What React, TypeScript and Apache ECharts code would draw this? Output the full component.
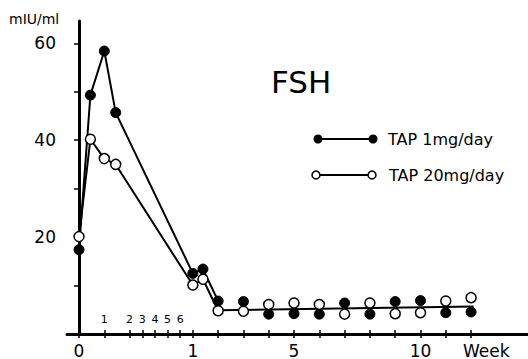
import React, { useEffect, useRef } from "react";
import * as echarts from "echarts";

// Axis units: day 0 = 0, day 1 = 2, day 2 = 4, day 3..6 = 5..8, week 1 = 9, then 2 units per week
const xPositions = [0, 0.9, 2, 2.9, 9, 9.8, 11, 13, 15, 17, 19, 21, 23, 25, 27, 29, 31];
const tap1 = [17.4, 49.3, 58.4, 45.7, 12.5, 13.4, 6.8, 6.7, 4.1, 4.2, 4.1, 6.4, 4.1, 6.7, 6.9, 4.4, 4.55];
const tap20 = [20.1, 40.2, 36.2, 35.0, 10.1, 11.3, 4.8, 4.7, 6.1, 6.4, 6.1, 4.1, 6.4, 4.2, 4.4, 6.8, 7.5];
const connectedCount = 7;
const plateauX = [11, 31.2];
const plateauY = [4.9, 5.7];

const xTickPositions = [0, 2, 4, 5, 6, 7, 8, 9, 11, 13, 15, 17, 19, 21, 23, 25, 27, 29, 31];
const weekLabelPositions = [0, 9, 17, 27, 32.2];
const weekLabelTexts = ["0", "1", "5", "10", "Week"];
const dayLabelPositions = [2, 4, 5, 6, 7, 8];
const dayLabelTexts = ["1", "2", "3", "4", "5", "6"];
const yLabelValues = [20, 40, 60];
const yTickValues = [10, 20, 30, 40, 50, 60];

const FONT = "DejaVu Sans";

export default function App() {
  const ref = useRef<HTMLDivElement>(null);
  useEffect(() => {
    if (!ref.current) return;
    const chart = echarts.init(ref.current, null, { renderer: "svg" });
    const pair = (xs: number[], ys: number[]) => xs.map((x, i) => [x, ys[i]]);
    const all1 = pair(xPositions, tap1);
    const all20 = pair(xPositions, tap20);
    const labelFor = (positions: number[], texts: string[]) => (v: number) => {
      const i = positions.findIndex((p) => Math.abs(p - v) < 1e-6);
      return i >= 0 ? texts[i] : "";
    };
    const filledStyle = { color: "#000", borderColor: "#000", borderWidth: 1, opacity: 1 };
    const openStyle = { color: "#fff", borderColor: "#000", borderWidth: 1.5, opacity: 1 };
    chart.setOption({
      animation: false,
      backgroundColor: "#fff",
      grid: { left: 67, right: 0, top: 21, bottom: 23, containLabel: false },
      xAxis: [
        {
          type: "value",
          min: -0.95,
          max: 35.5,
          position: "bottom",
          splitLine: { show: false },
          axisLine: { show: true, onZero: false, lineStyle: { color: "#000", width: 3 } },
          axisTick: {
            show: true,
            inside: false,
            length: 4,
            customValues: xTickPositions,
            lineStyle: { color: "#000", width: 1.5 },
          },
          axisLabel: {
            customValues: weekLabelPositions,
            formatter: labelFor(weekLabelPositions, weekLabelTexts),
            color: "#000",
            fontFamily: FONT,
            fontSize: 17,
            margin: 8,
          },
        },
        {
          type: "value",
          min: -0.95,
          max: 35.5,
          position: "bottom",
          splitLine: { show: false },
          axisLine: { show: false, onZero: false },
          axisTick: {
            show: true,
            inside: true,
            length: 4,
            customValues: xTickPositions,
            lineStyle: { color: "#000", width: 1.5 },
          },
          axisLabel: {
            inside: true,
            customValues: dayLabelPositions,
            formatter: labelFor(dayLabelPositions, dayLabelTexts),
            color: "#000",
            fontFamily: FONT,
            fontSize: 11,
            margin: 9,
          },
        },
      ],
      yAxis: {
        type: "value",
        min: 0,
        max: 64.6,
        splitLine: { show: false },
        axisLine: { show: true, lineStyle: { color: "#000", width: 3 } },
        axisTick: {
          show: true,
          length: 5,
          customValues: yTickValues,
          lineStyle: { color: "#000", width: 1.5 },
        },
        axisLabel: {
          customValues: yLabelValues,
          color: "#000",
          fontFamily: FONT,
          fontSize: 17,
          margin: 11,
        },
      },
      title: {
        text: "FSH",
        left: 271,
        top: 66,
        padding: 0,
        textStyle: { fontFamily: FONT, fontSize: 31, fontWeight: "normal", color: "#000" },
      },
      graphic: [
        {
          type: "text",
          left: 9,
          top: 12,
          style: { text: "mIU/ml", font: `14px "${FONT}"`, fill: "#000" },
        },
        { type: "line", shape: { x1: 318, y1: 139, x2: 373, y2: 139 }, style: { stroke: "#000", lineWidth: 2 } },
        { type: "circle", shape: { cx: 318, cy: 139, r: 4.5 }, style: { fill: "#000" } },
        { type: "circle", shape: { cx: 373, cy: 139, r: 4.5 }, style: { fill: "#000" } },
        {
          type: "text",
          x: 388,
          y: 139,
          style: { text: "TAP 1mg/day", font: `16px "${FONT}"`, fill: "#000", verticalAlign: "middle" },
        },
        { type: "line", shape: { x1: 316, y1: 175, x2: 372, y2: 175 }, style: { stroke: "#000", lineWidth: 2 } },
        { type: "circle", shape: { cx: 316, cy: 175, r: 4 }, style: { fill: "#fff", stroke: "#000", lineWidth: 1.5 } },
        { type: "circle", shape: { cx: 372, cy: 175, r: 4 }, style: { fill: "#fff", stroke: "#000", lineWidth: 1.5 } },
        {
          type: "text",
          x: 389,
          y: 175,
          style: { text: "TAP 20mg/day", font: `16px "${FONT}"`, fill: "#000", verticalAlign: "middle" },
        },
      ],
      series: [
        {
          name: "plateau",
          type: "line",
          data: pair(plateauX, plateauY),
          symbol: "none",
          lineStyle: { color: "#000", width: 2 },
          z: 1,
        },
        {
          name: "TAP 1mg/day",
          type: "line",
          data: all1.slice(0, connectedCount),
          symbol: "circle",
          symbolSize: 10,
          itemStyle: filledStyle,
          lineStyle: { color: "#000", width: 2 },
          z: 2,
        },
        {
          name: "TAP 1mg/day (later)",
          type: "scatter",
          data: all1.slice(connectedCount),
          symbol: "circle",
          symbolSize: 10,
          itemStyle: filledStyle,
          z: 3,
        },
        {
          name: "TAP 20mg/day",
          type: "line",
          data: all20.slice(0, connectedCount),
          symbol: "circle",
          symbolSize: 10,
          itemStyle: openStyle,
          lineStyle: { color: "#000", width: 2 },
          z: 4,
        },
        {
          name: "TAP 20mg/day (later)",
          type: "scatter",
          data: all20.slice(connectedCount),
          symbol: "circle",
          symbolSize: 10,
          itemStyle: openStyle,
          z: 5,
        },
      ],
    });
    return () => chart.dispose();
  }, []);
  return (
    <div
      ref={ref}
      style={{ position: "fixed", left: 0, top: 0, width: 528, height: 359, background: "#fff" }}
    />
  );
}
